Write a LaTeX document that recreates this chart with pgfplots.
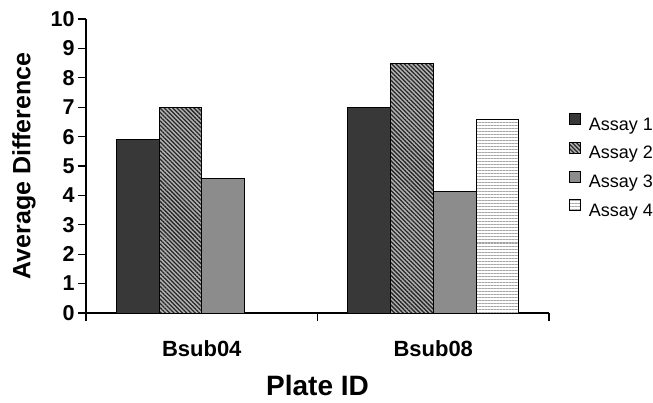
\documentclass[border=0pt]{standalone}
\usepackage{fontspec}
\setmainfont{Liberation Sans}
\usepackage{pgfplots}
\pgfplotsset{compat=1.18}
\usetikzlibrary{patterns.meta}
\begin{document}
\begin{tikzpicture}
\path[use as bounding box] (0,0) rectangle (653pt,402pt);
\begin{axis}[
  at={(86pt,89pt)}, anchor=south west,
  scale only axis, width=463pt, height=294pt,
  ymin=0, ymax=10, ytick={0,1,...,10},
  xmin=-0.5, xmax=1.5,
  axis x line*=bottom, axis y line*=left,
  axis line style={line width=1.2pt},
  tick style={line width=1.2pt, black},
  tick align=outside, major tick length=8pt,
  /pgf/number format/assume math mode=true,
  ybar=0pt, bar width=42.7pt,
  xtick={-0.5,0.5,1.5}, xticklabels={},
  extra x ticks={0,1}, extra x tick labels={Bsub04,Bsub08},
  extra x tick style={major tick length=0pt},
  xticklabel style={font=\bfseries\fontsize{22}{22}\selectfont, anchor=base, yshift=-43pt},
  yticklabel style={font=\bfseries\fontsize{21.5}{21.5}\selectfont},
  ylabel={Average Difference},
  ylabel style={font=\bfseries\fontsize{25}{25}\selectfont, at={(axis description cs:-0.134,0.5)}, anchor=center},
  xlabel={Plate ID},
  xlabel style={font=\bfseries\fontsize{28}{28}\selectfont, at={(axis description cs:0.5,-0.28)}, anchor=base},
  legend style={at={(axis description cs:1.043,0.68)}, anchor=north west, draw=none, fill=none,
    font=\fontsize{18}{18}\selectfont, inner sep=0pt, row sep=10.3pt,
    nodes={inner sep=0pt}},
  legend cell align=left,
  legend image code/.code={\draw[#1, line width=0.8pt] (0pt,0pt) rectangle (11pt,11pt);},
  /tikz/every odd column/.append style={column sep=8pt},
]
\addplot[draw=black, line width=0.9pt, fill=black!78] coordinates {(0,5.9) (1,7.0)};
\addplot[draw=black, line width=0.9pt, fill=black!30, postaction={pattern={Lines[angle=-45,distance=3pt,line width=1.3pt]}, pattern color=black!85}] coordinates {(0,7.0) (1,8.5)};
\addplot[draw=black, line width=0.9pt, fill=black!45] coordinates {(0,4.56) (1,4.13)};
\addplot[draw=black, line width=0.9pt, fill=white, postaction={pattern={Lines[angle=0,distance=3pt,line width=1pt]}, pattern color=black!35}] coordinates {(1,6.6)};
\legend{Assay 1,Assay 2,Assay 3,Assay 4}
\end{axis}
\end{tikzpicture}
\end{document}
